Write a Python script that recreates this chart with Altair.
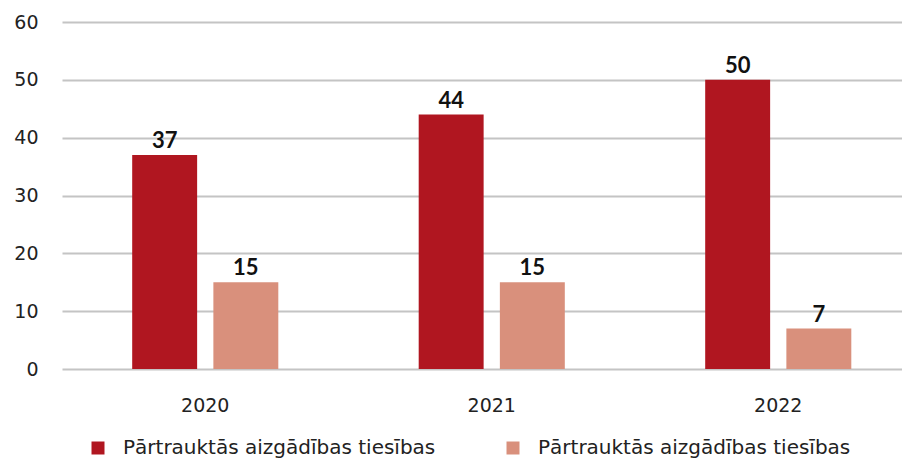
import altair as alt
import pandas as pd

years = ["2020", "2021", "2022"]
series = ["Pārtrauktās aizgādības tiesības", "Pārtrauktās aizgādības tiesības\u200b"]
values_a = [37, 44, 50]
values_b = [15, 15, 7]
colors = ["#B01620", "#D9907C"]
y_ticks = [0, 10, 20, 30, 40, 50, 60]

rows = []
for i, y in enumerate(years):
    rows.append({"year": y, "series": series[0], "value": values_a[i]})
    rows.append({"year": y, "series": series[1], "value": values_b[i]})
df = pd.DataFrame(rows)

FONT = "DejaVu Sans"
BOLD_FONT = "Lato"

xscale = alt.Scale(paddingInner=0.49, paddingOuter=0.245, range=[0, 859.5])
x = alt.X("year:N", title=None, sort=years, scale=xscale,
          axis=alt.Axis(labelAngle=0, labelFontSize=19, labelFont=FONT, labelColor="#222222",
                        labelPadding=27, domain=False, ticks=False))
xo = alt.XOffset("series:N", sort=series, scale=alt.Scale(paddingInner=0.2, paddingOuter=0))
y = alt.Y("value:Q", title=None, scale=alt.Scale(domain=[0, 60], nice=False),
          axis=alt.Axis(values=y_ticks, labelFontSize=19, labelFont=FONT, labelColor="#222222",
                        labelPadding=24, domain=False, ticks=False, gridColor="#c4c4c4",
                        gridWidth=1.8))

bars = alt.Chart(df).mark_bar().encode(
    x=x, xOffset=xo, y=y,
    color=alt.Color("series:N", sort=series,
                    scale=alt.Scale(domain=series, range=colors),
                    legend=alt.Legend(title=None, orient="none", legendX=26, legendY=416,
                                      direction="horizontal", symbolType="square",
                                      symbolSize=169, symbolStrokeWidth=0, labelFontSize=20,
                                      labelFont=FONT, labelColor="#222222", labelOffset=15,
                                      columnPadding=67, labelLimit=600)),
)

labels = alt.Chart(df).mark_text(dy=-14, fontSize=22, fontWeight="bold", font=BOLD_FONT,
                                 color="#111111").encode(
    x=alt.X("year:N", sort=years, scale=xscale),
    xOffset=xo,
    y="value:Q",
    text="value:Q",
)

chart = (bars + labels).properties(
    width=840, height=347,
    autosize=alt.AutoSizeParams(type="none"),
    padding={"left": 54, "top": 14, "right": 0, "bottom": 93},
).configure_view(stroke=None).configure_axis(gridCap="butt")

chart.save("out.html", embed_options={"renderer": "svg", "actions": False})
